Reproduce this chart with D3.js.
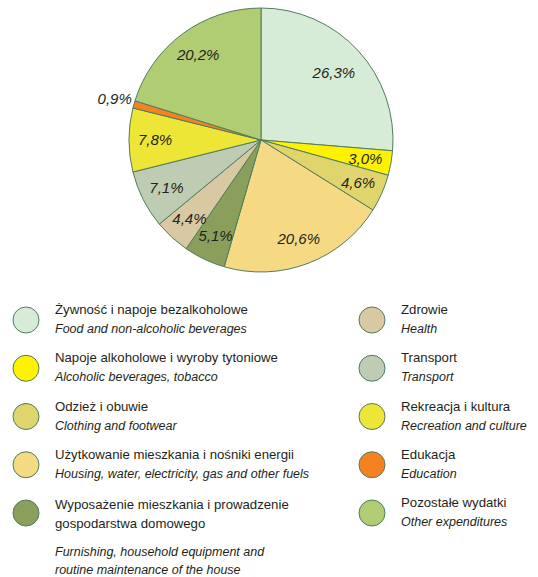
<!DOCTYPE html>
<html><head><meta charset="utf-8">
<script src="https://cdn.jsdelivr.net/npm/d3@7"></script>
<style>
html,body{margin:0;padding:0;background:#fff;}
svg{display:block;}
text{font-family:"Liberation Sans",Arial,sans-serif;fill:#231f20;}
</style></head>
<body>
<svg id="chart" width="538" height="577"></svg>
<script>
const categoriesPL = [
  ["Żywność i napoje bezalkoholowe"],
  ["Napoje alkoholowe i wyroby tytoniowe"],
  ["Odzież i obuwie"],
  ["Użytkowanie mieszkania i nośniki energii"],
  ["Wyposażenie mieszkania i prowadzenie", "gospodarstwa domowego"],
  ["Zdrowie"],
  ["Transport"],
  ["Rekreacja i kultura"],
  ["Edukacja"],
  ["Pozostałe wydatki"]
];
const categoriesEN = [
  ["Food and non-alcoholic beverages"],
  ["Alcoholic beverages, tobacco"],
  ["Clothing and footwear"],
  ["Housing, water, electricity, gas and other fuels"],
  ["Furnishing, household equipment and", "routine maintenance of the house"],
  ["Health"],
  ["Transport"],
  ["Recreation and culture"],
  ["Education"],
  ["Other expenditures"]
];
const values = [26.3, 3.0, 4.6, 20.6, 5.1, 4.4, 7.1, 7.8, 0.9, 20.2];
const colors = ["#d7ecd7", "#fff200", "#e0d46c", "#f6da83", "#8a9f5b", "#d8c9a2", "#bdccb2", "#eee636", "#f58220", "#b1cd74"];

const svg = d3.select("#chart");
const cx = 261, cy = 140, R = 132;
const g = svg.append("g").attr("transform", `translate(${cx},${cy})`);
const pie = d3.pie().sort(null).value(d => d);
const arcs = pie(values);
const arc = d3.arc().innerRadius(0).outerRadius(R);
g.selectAll("path").data(arcs).join("path")
  .attr("d", arc)
  .attr("fill", (d, i) => colors[i])
  .attr("stroke", "#4f7d5f")
  .attr("stroke-width", 1);

const fmt = v => d3.format(".1f")(v).replace(".", ",") + "%";
g.selectAll("text.lbl").data(arcs).join("text")
  .attr("class", "lbl")
  .attr("transform", d => {
    const r = d.value < 2 ? 152 : (d.value > 25 ? 99 : 106);
    const a = (d.startAngle + d.endAngle) / 2;
    return `translate(${r * Math.sin(a)},${-r * Math.cos(a)})`;
  })
  .attr("text-anchor", "middle")
  .attr("dy", "0.36em")
  .style("font-style", "italic")
  .style("font-size", "15px")
  .text(d => fmt(d.value));

// legend
const leftIdx = [0, 1, 2, 3, 4], rightIdx = [5, 6, 7, 8, 9];
const rowY = d3.scaleLinear().domain([0, 4]).range([320, 513]);
function legendColumn(idxs, x0) {
  idxs.forEach((ci, row) => {
    const yc = rowY(row);
    svg.append("circle").attr("cx", x0).attr("cy", yc).attr("r", 13)
      .attr("fill", colors[ci]).attr("stroke", "#4f7d5f").attr("stroke-width", 1);
    const pl = categoriesPL[ci], en = categoriesEN[ci];
    const multi = pl.length > 1;
    const y0 = multi ? yc - 4 : yc - 6;
    const t = svg.append("text").style("font-size", "13.2px");
    pl.forEach((s, k) => {
      t.append("tspan").attr("x", x0 + 29).attr("y", y0 + k * 19).text(s);
    });
    const ey = y0 + (pl.length - 1) * 19 + (multi ? 28 : 19);
    const te = svg.append("text").style("font-size", "12.5px").style("font-style", "italic");
    en.forEach((s, k) => {
      te.append("tspan").attr("x", x0 + 29).attr("y", ey + k * 18).text(s);
    });
  });
}
legendColumn(leftIdx, 26);
legendColumn(rightIdx, 372);
</script>
</body></html>
